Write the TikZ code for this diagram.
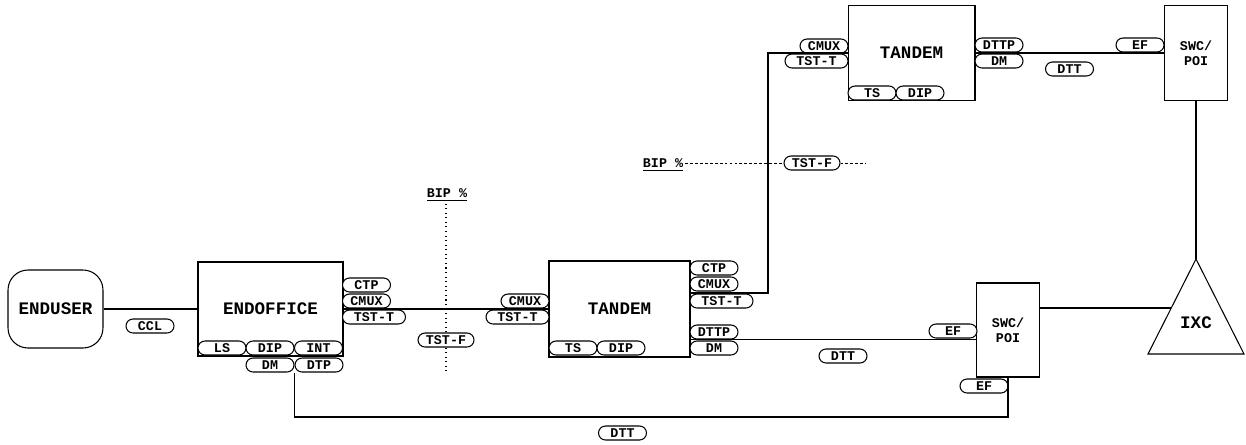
\documentclass[tikz,border=0pt]{standalone}
\usepackage{fontspec}
\setmonofont{Liberation Mono}
\usepackage{tikz}
\usetikzlibrary{positioning}
\newcommand{\letrag}{\fontsize{10}{12}\selectfont\ttfamily\bfseries}
\newcommand{\letrap}{\fontsize{7.6}{8.6}\selectfont\ttfamily\bfseries}

\begin{document}
\begin{tikzpicture}[x=0.02cm, y=-0.02cm, line width=0.6pt,
  caja/.style={draw, inner sep=0pt, font=\letrag},
  swc/.style={draw, inner sep=0pt, minimum width=1.27cm, minimum height=1.9cm, align=center, font=\letrap},
  etiq/.style={draw, fill=white, rounded corners=0.14cm, minimum width=0.96cm, minimum height=0.28cm, inner sep=0pt, font=\letrap},
  ancha/.style={etiq, minimum width=1.26cm},
  media/.style={etiq, minimum width=1.12cm},
  bip/.style={inner sep=1pt, font=\letrap}
]
  \useasboundingbox (0,0) rectangle (1246,444);

  \node[caja, rounded corners=0.4cm, minimum width=1.9cm, minimum height=1.56cm] (eu) at (55.5,309) {ENDUSER};
  \node[etiq] (ccl) at (150,326) {CCL};

  \node[caja, minimum width=2.9cm, minimum height=1.88cm] (eo) at (270.5,309) {ENDOFFICE};
  \node[etiq]  (eoctp)  at (366.5,285) {CTP};
  \node[etiq]  (eocmux) at (366.5,301) {CMUX};
  \node[ancha] (eotst)  at (374,317)   {TST-T};
  \node[etiq]  (eols)   at (222,348)   {LS};
  \node[etiq]  (eodip)  at (270,348)   {DIP};
  \node[etiq]  (eoint)  at (318.5,348) {INT};
  \node[etiq]  (eodm)   at (270,365)   {DM};
  \node[etiq]  (eodtp)  at (319,365)   {DTP};

  \node[bip]   (bip1)  at (447,195) {\underline{BIP \%}};
  \node[media] (tstf1) at (446,340) {TST-F};
  \coordinate (bip1fin) at (446,372);

  \node[caja, minimum width=2.82cm, minimum height=1.92cm] (tdl) at (619.5,309) {TANDEM};
  \node[etiq]  (tdlcmux)  at (525,301)   {CMUX};
  \node[ancha] (tdltst)   at (517.5,317) {TST-T};
  \node[etiq]  (tdlctp)   at (714,268)   {CTP};
  \node[etiq]  (tdlcmux2) at (714,284)   {CMUX};
  \node[ancha] (tdltst2)  at (721.5,301) {TST-T};
  \node[etiq]  (tdldttp)  at (714,332)   {DTTP};
  \node[etiq]  (tdldm)    at (714,348)   {DM};
  \node[etiq]  (tdlts)    at (573,348)   {TS};
  \node[etiq]  (tdldip)   at (621,348)   {DIP};

  \node[caja, minimum width=2.54cm, minimum height=1.9cm] (tdu) at (911.5,53) {TANDEM};
  \node[etiq]  (tducmux) at (824,46)    {CMUX};
  \node[ancha] (tdutst)  at (816.5,61)  {TST-T};
  \node[etiq]  (tduts)   at (872,93)    {TS};
  \node[etiq]  (tdudip)  at (920,93)    {DIP};
  \node[etiq]  (tdudttp) at (999,45)    {DTTP};
  \node[etiq]  (tdudm)   at (999,61)    {DM};

  \node[bip]   (bip2)  at (663,165) {\underline{BIP \%}};
  \node[media] (tstf2) at (812,163) {TST-F};
  \coordinate (bip2fin) at (866,163);

  \node[swc] (swcu) at (1196,53) {SWC/\\POI};
  \node[etiq] (efu)  at (1140,45)   {EF};
  \node[etiq] (dttu) at (1069.5,69) {DTT};

  \node[swc, minimum height=1.88cm] (swcl) at (1008,330) {SWC/\\POI};
  \node[etiq] (efl1) at (953,331)  {EF};
  \node[etiq] (efl2) at (984,386)  {EF};
  \node[etiq] (dttm) at (843,356)  {DTT};
  \node[etiq] (dttb) at (622.5,433) {DTT};

  \coordinate (ixcp) at (1196,259);
  \coordinate (ixci) at (1148,354);
  \coordinate (ixcd) at (1244,354);
  \coordinate (ixcw) at (1171,308);
  \draw (ixcp) -- (ixcd) -- (ixci) -- cycle;
  \node[font=\letrag] (ixc) at (1196,323) {IXC};

  \coordinate (giro) at (768,293);
  \coordinate (fondo) at (1008,417);

  \draw (eu) -- (eo);
  \draw (eo) -- (tdl);
  \draw (tdl.east |- giro) -- (giro) |- (tdu.west);
  \draw (tdldttp.south west) -- (tdldttp.south west -| swcl.west);
  \draw (tdu) -- (swcu);
  \draw (swcu.south) -- (ixcp);
  \draw (swcl.east |- ixcw) -- (ixcw);
  \draw (eodtp.south west) |- (fondo) -- (swcl.south);
  \draw[dotted] (tstf1 |- bip1.south) -- (tstf1.north) (tstf1.south) -- (bip1fin);
  \draw[dash pattern=on 1.6pt off 1.2pt, line width=0.5pt] (bip2.east |- tstf2) -- (tstf2.west) (tstf2.east) -- (bip2fin);
\end{tikzpicture}
\end{document}
